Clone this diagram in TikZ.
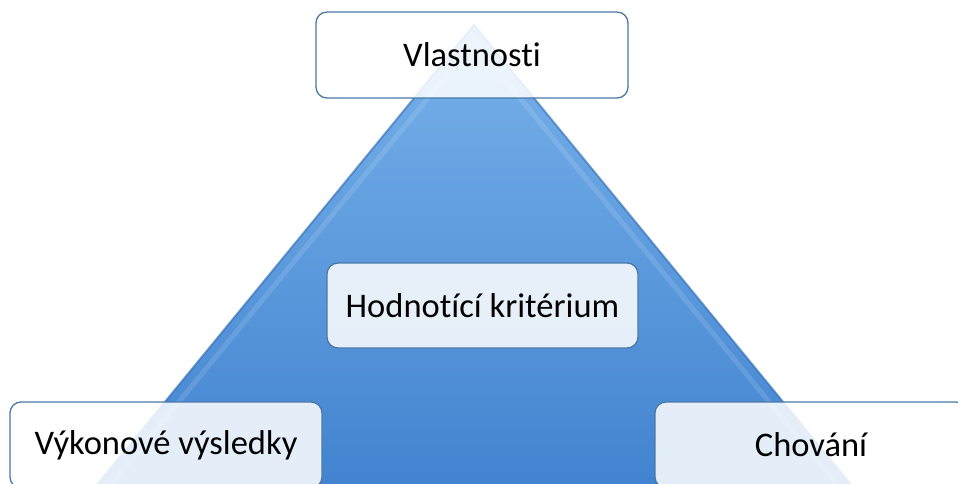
\documentclass[tikz,border=0pt]{standalone}
\usepackage{fontspec}
\setmainfont[Ligatures=NoCommon]{Carlito}
\definecolor{boxline}{HTML}{4A78A6}
\definecolor{tritop}{HTML}{78B2EA}
\definecolor{tribot}{HTML}{3E80CE}
\definecolor{triedge}{HTML}{2F6BB5}
\begin{document}
\begin{tikzpicture}[x=1pt,y=-1pt,
  box/.style={draw=boxline, line width=1.3pt, rounded corners=11pt, fill=white,
    fill opacity=0.86, text opacity=1, minimum width=312pt, minimum height=86pt,
    inner sep=0pt, font=\fontsize{34.5}{41}\selectfont}]
\useasboundingbox (0,0) rectangle (958,484);
\clip (0,0) rectangle (958,484);
\shade[top color=tritop, bottom color=tribot, shading angle=0]
  (474,25) -- (880,520) -- (68,520) -- cycle;
\draw[triedge, line width=2pt, opacity=0.6] (68,520) -- (474,25) -- (880,520);
\draw[white, line width=5pt, opacity=0.12] (82,520) -- (474,42) -- (866,520);
\node[box] (top) at (472,55) {Vlastnosti};
\node[box, minimum width=311pt, minimum height=85pt] (mid) at (482.5,305.5) {Hodnotící kritérium};
\node[box] (left) at (166,445) {Výkonové výsledky};
\node[box] (right) at (811,445) {Chování};
\end{tikzpicture}
\end{document}
